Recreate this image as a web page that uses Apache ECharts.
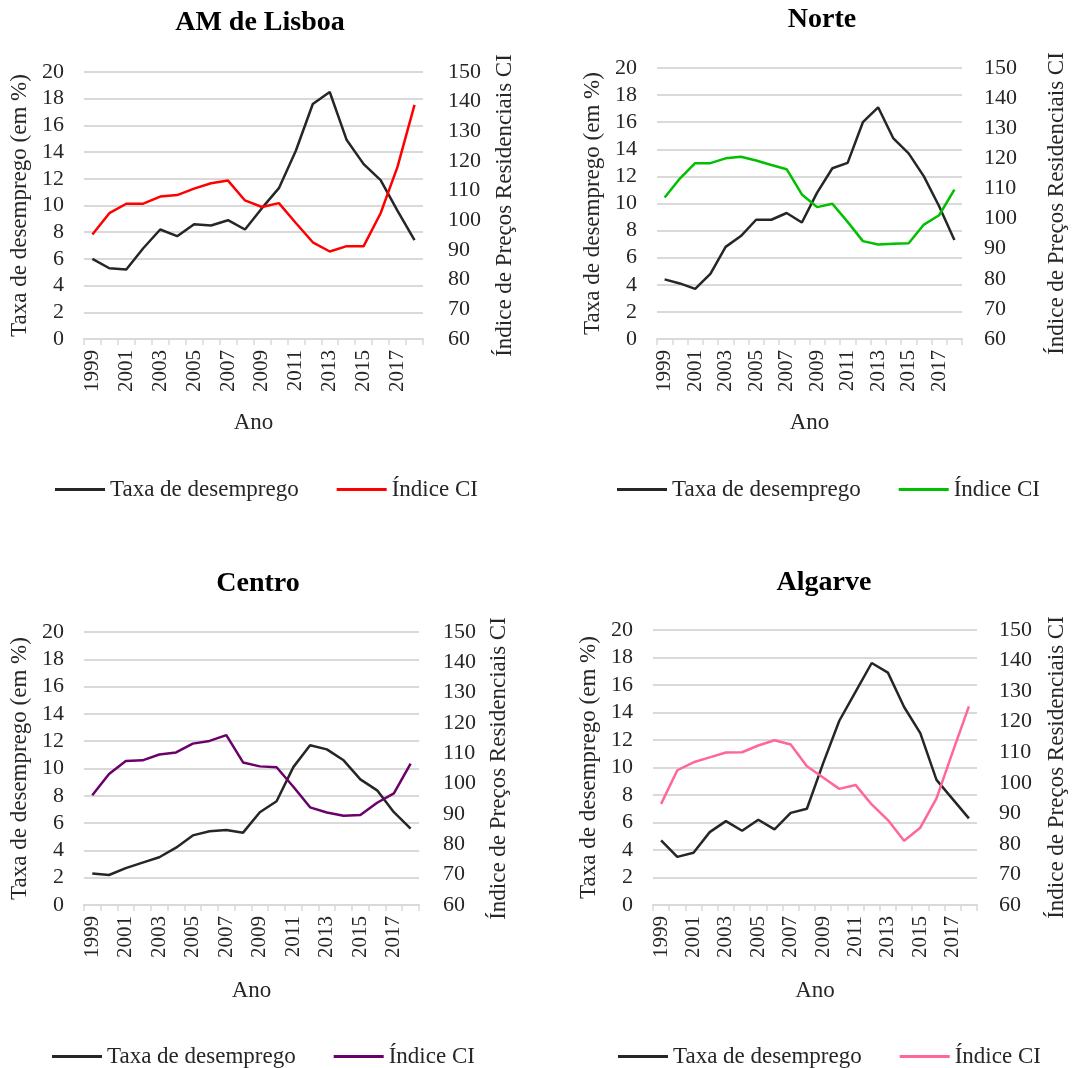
<!DOCTYPE html>
<html>
<head>
<meta charset="utf-8">
<title>Taxa de desemprego e Índice de Preços Residenciais CI</title>
<script src="https://cdn.jsdelivr.net/npm/echarts@6/dist/echarts.min.js"></script>
<style>
  html, body { margin: 0; padding: 0; background: #ffffff; }
  .panel { position: absolute; width: 538px; height: 534px; }
</style>
</head>
<body>
<div id="lisboa" class="panel" style="left:0;top:0"></div>
<div id="norte" class="panel" style="left:538px;top:0"></div>
<div id="centro" class="panel" style="left:0;top:534px"></div>
<div id="algarve" class="panel" style="left:538px;top:534px"></div>
<script>
// Anos (eixo das categorias)
const years = ['1999','2000','2001','2002','2003','2004','2005','2006','2007','2008',
               '2009','2010','2011','2012','2013','2014','2015','2016','2017','2018'];

// Taxa de desemprego (em %) por região
const lisboaDesemprego  = [6.0, 5.3, 5.2, 6.8, 8.2, 7.7, 8.6, 8.5, 8.9, 8.2, 9.8, 11.3, 14.1, 17.6, 18.5, 14.9, 13.1, 11.9, 9.6, 7.4];
const norteDesemprego   = [4.4, 4.1, 3.7, 4.8, 6.8, 7.6, 8.8, 8.8, 9.3, 8.6, 10.8, 12.6, 13.0, 16.0, 17.1, 14.8, 13.7, 12.0, 9.8, 7.3];
const centroDesemprego  = [2.3, 2.2, 2.7, 3.1, 3.5, 4.2, 5.1, 5.4, 5.5, 5.3, 6.8, 7.6, 10.1, 11.7, 11.4, 10.6, 9.2, 8.4, 6.8, 5.6];
const algarveDesemprego = [4.7, 3.5, 3.8, 5.3, 6.1, 5.4, 6.2, 5.5, 6.7, 7.0, 10.3, 13.4, 15.5, 17.6, 16.9, 14.4, 12.5, 9.1, 7.7, 6.3];

// Índice de Preços Residenciais CI por região
const lisboaIndice  = [95.2, 102.4, 105.6, 105.6, 108.0, 108.5, 110.7, 112.5, 113.4, 106.7, 104.5, 105.8, 99.1, 92.6, 89.5, 91.3, 91.3, 102.4, 118.1, 138.9];
const norteIndice   = [107.0, 113.3, 118.4, 118.4, 120.0, 120.5, 119.3, 117.8, 116.4, 108.0, 103.8, 104.9, 98.9, 92.5, 91.4, 91.6, 91.8, 98.0, 101.1, 109.6];
const centroIndice  = [96.2, 103.2, 107.5, 107.7, 109.6, 110.3, 113.2, 114.1, 116.0, 107.0, 105.7, 105.4, 99.0, 92.2, 90.5, 89.4, 89.7, 93.7, 96.8, 106.6];
const algarveIndice = [93.1, 104.1, 106.7, 108.3, 109.9, 110.0, 112.2, 113.9, 112.5, 105.4, 101.7, 98.0, 99.3, 92.9, 87.8, 81.0, 85.3, 94.9, 110.1, 125.0];

// Escalas dos eixos
const leftTicks  = { min: 0, max: 20, interval: 2 };
const rightTicks = { min: 60, max: 150, interval: 10 };

const FONT = '"Liberation Serif", "DejaVu Serif", serif';
const TEXT = '#262626';
const GRID_LINE = '#D9D9D9';

function buildPanel(id, title, desemprego, indice, indiceColor, L) {
  const chart = echarts.init(document.getElementById(id), null, { renderer: 'canvas' });
  chart.setOption({
    animation: false,
    textStyle: { fontFamily: FONT },
    title: {
      text: title,
      left: L.titleX - 5,
      top: L.titleY - 19,
      textAlign: 'center',
      textStyle: { fontFamily: FONT, fontSize: 28, fontWeight: 'bold', color: '#000000' }
    },
    legend: {
      left: L.legendLeft,
      top: L.legendTop,
      icon: 'rect',
      itemWidth: 50,
      itemHeight: 3,
      itemGap: 38,
      textStyle: { fontFamily: FONT, fontSize: 23, color: TEXT },
      data: ['Taxa de desemprego', 'Índice CI']
    },
    grid: { left: L.left, top: L.top, width: L.width, height: L.height },
    xAxis: {
      type: 'category',
      data: years,
      boundaryGap: true,
      name: 'Ano',
      nameLocation: 'middle',
      nameGap: L.xNameGap,
      nameTextStyle: { fontFamily: FONT, fontSize: 23, color: TEXT },
      axisLine: { lineStyle: { color: GRID_LINE, width: 2 } },
      axisTick: { show: true, interval: 0, length: 6, lineStyle: { color: GRID_LINE, width: 1.5 } },
      axisLabel: { interval: 1, rotate: 90, margin: 11, fontFamily: FONT, fontSize: 21, color: TEXT },
      splitLine: { show: false }
    },
    yAxis: [
      {
        type: 'value',
        min: leftTicks.min, max: leftTicks.max, interval: leftTicks.interval,
        name: 'Taxa de desemprego (em %)',
        nameLocation: 'middle',
        nameRotate: 90,
        nameGap: L.leftNameGap,
        nameTextStyle: { fontFamily: FONT, fontSize: 23, color: TEXT },
        axisLine: { show: false },
        axisTick: { show: false },
        axisLabel: { margin: 20, fontFamily: FONT, fontSize: 22, color: TEXT },
        splitLine: { show: true, lineStyle: { color: GRID_LINE, width: 2 } }
      },
      {
        type: 'value',
        position: 'right',
        min: rightTicks.min, max: rightTicks.max, interval: rightTicks.interval,
        name: 'Índice de Preços Residenciais CI',
        nameLocation: 'middle',
        nameRotate: 90,
        nameGap: L.rightNameGap,
        nameTextStyle: { fontFamily: FONT, fontSize: 23, color: TEXT },
        axisLine: { show: false },
        axisTick: { show: false },
        axisLabel: { margin: L.rightLabelMargin, fontFamily: FONT, fontSize: 22, color: TEXT },
        splitLine: { show: false }
      }
    ],
    series: [
      {
        name: 'Taxa de desemprego',
        type: 'line',
        yAxisIndex: 0,
        data: desemprego,
        symbol: 'none',
        lineStyle: { color: '#262626', width: 2.5 },
        itemStyle: { color: '#262626' }
      },
      {
        name: 'Índice CI',
        type: 'line',
        yAxisIndex: 1,
        data: indice,
        symbol: 'none',
        lineStyle: { color: indiceColor, width: 2.5 },
        itemStyle: { color: indiceColor }
      }
    ]
  });
}

buildPanel('lisboa', 'AM de Lisboa', lisboaDesemprego, lisboaIndice, '#FF0000', {
  left: 83, top: 72, width: 340, height: 267,
  titleX: 260, titleY: 23, legendLeft: 50, legendTop: 473,
  xNameGap: 72, leftNameGap: 52, rightNameGap: 70, rightLabelMargin: 25
});
buildPanel('norte', 'Norte', norteDesemprego, norteIndice, '#00C000', {
  left: 119, top: 68, width: 318, height: 271,
  titleX: 284, titleY: 20, legendLeft: 74, legendTop: 473,
  xNameGap: 72, leftNameGap: 52, rightNameGap: 83, rightLabelMargin: 22
});
buildPanel('centro', 'Centro', centroDesemprego, centroIndice, '#6B006B', {
  left: 83, top: 98, width: 336, height: 273,
  titleX: 258, titleY: 50, legendLeft: 47, legendTop: 506,
  xNameGap: 74, leftNameGap: 52, rightNameGap: 68, rightLabelMargin: 24
});
buildPanel('algarve', 'Algarve', algarveDesemprego, algarveIndice, '#FF6699', {
  left: 115, top: 96, width: 329, height: 275,
  titleX: 286, titleY: 49, legendLeft: 75, legendTop: 506,
  xNameGap: 74, leftNameGap: 52, rightNameGap: 68, rightLabelMargin: 22
});
</script>
</body>
</html>
